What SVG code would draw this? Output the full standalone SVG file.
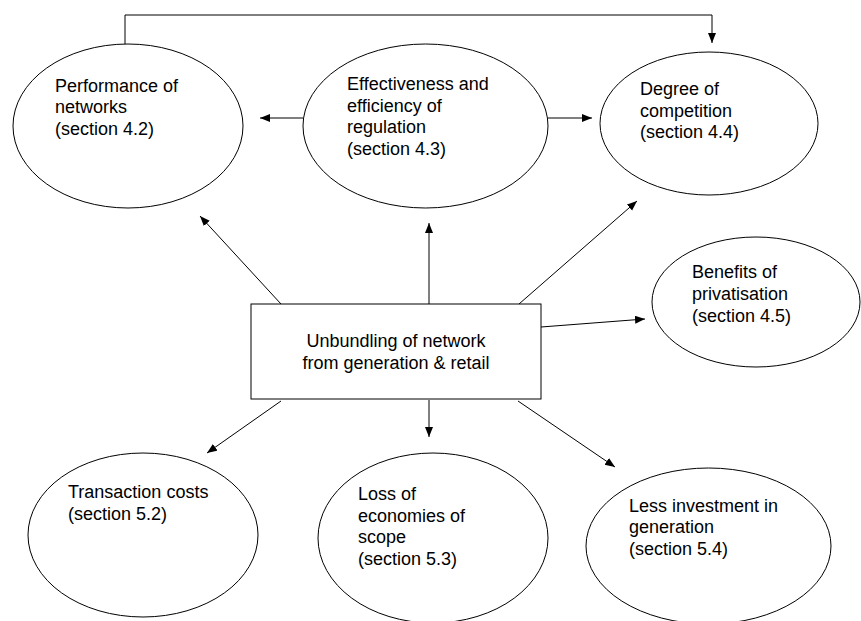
<svg xmlns="http://www.w3.org/2000/svg" width="861" height="621" viewBox="0 0 861 621">
<style>
.n{fill:#fff;stroke:#000;stroke-width:1}
.t{font-family:"Liberation Sans",Arial,sans-serif;font-size:18px;fill:#000}
.c{fill:none;stroke:#000;stroke-width:1}
</style>
<defs>
<marker id="ah" markerUnits="userSpaceOnUse" markerWidth="11" markerHeight="9" refX="10" refY="4" orient="auto">
<path d="M0,0 L10,4 L0,8 z" fill="#000"/>
</marker>
</defs>
<rect width="861" height="621" fill="#fff"/>
<g id="n-performance">
<ellipse class="n" cx="128" cy="126" rx="115" ry="82"/>
<text class="t" x="55"><tspan x="55" y="92">Performance of</tspan><tspan x="55" y="113">networks</tspan><tspan x="55" y="135">(section 4.2)</tspan></text>
</g>
<g id="n-regulation">
<ellipse class="n" cx="425.5" cy="126" rx="122.5" ry="82"/>
<text class="t"><tspan x="347" y="90">Effectiveness and</tspan><tspan x="347" y="112">efficiency of</tspan><tspan x="347" y="133">regulation</tspan><tspan x="347" y="155">(section 4.3)</tspan></text>
</g>
<g id="n-competition">
<ellipse class="n" cx="709" cy="123.5" rx="109" ry="71.5"/>
<text class="t"><tspan x="640" y="95">Degree of</tspan><tspan x="640" y="117">competition</tspan><tspan x="640" y="138">(section 4.4)</tspan></text>
</g>
<g id="n-privatisation">
<ellipse class="n" cx="756" cy="302" rx="104" ry="65"/>
<text class="t"><tspan x="692" y="278">Benefits of</tspan><tspan x="692" y="300">privatisation</tspan><tspan x="692" y="322">(section 4.5)</tspan></text>
</g>
<g id="n-unbundling">
<rect class="n" x="251" y="304" width="290" height="95"/>
<text class="t" text-anchor="middle"><tspan x="396" y="347">Unbundling of network</tspan><tspan x="396" y="369">from generation &amp; retail</tspan></text>
</g>
<g id="n-transaction">
<ellipse class="n" cx="143" cy="535" rx="115" ry="82"/>
<text class="t"><tspan x="68" y="498">Transaction costs</tspan><tspan x="68" y="520">(section 5.2)</tspan></text>
</g>
<g id="n-scope">
<ellipse class="n" cx="433" cy="538" rx="115" ry="85"/>
<text class="t"><tspan x="358" y="500">Loss of</tspan><tspan x="358" y="522">economies of</tspan><tspan x="358" y="543">scope</tspan><tspan x="358" y="565">(section 5.3)</tspan></text>
</g>
<g id="n-investment">
<ellipse class="n" cx="708.5" cy="546" rx="122.5" ry="78"/>
<text class="t"><tspan x="629" y="512">Less investment in</tspan><tspan x="629" y="533">generation</tspan><tspan x="629" y="555">(section 5.4)</tspan></text>
</g>
<g id="connectors">
<polyline class="c" points="125,44 125,15 712,15 712,43" marker-end="url(#ah)"/>
<line class="c" x1="303" y1="118" x2="260" y2="118" marker-end="url(#ah)"/>
<line class="c" x1="548" y1="118" x2="592" y2="118" marker-end="url(#ah)"/>
<line class="c" x1="281" y1="304" x2="200" y2="216" marker-end="url(#ah)"/>
<line class="c" x1="429" y1="304" x2="429" y2="223" marker-end="url(#ah)"/>
<line class="c" x1="519" y1="304" x2="637" y2="201" marker-end="url(#ah)"/>
<line class="c" x1="541" y1="327" x2="645" y2="319" marker-end="url(#ah)"/>
<line class="c" x1="281" y1="401" x2="207" y2="453" marker-end="url(#ah)"/>
<line class="c" x1="429" y1="400" x2="429" y2="437" marker-end="url(#ah)"/>
<line class="c" x1="518" y1="401" x2="615" y2="467" marker-end="url(#ah)"/>
</g>
</svg>
